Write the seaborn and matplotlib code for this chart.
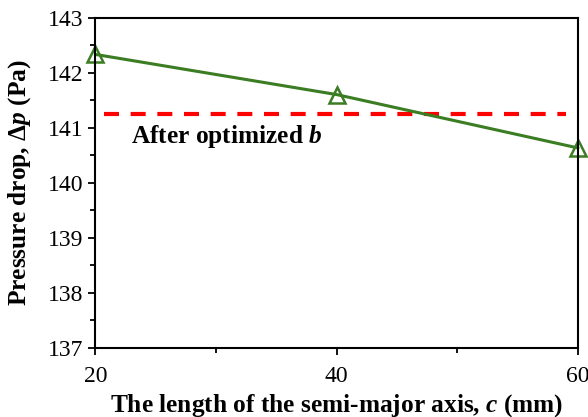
import matplotlib
matplotlib.use("Agg")
import matplotlib.pyplot as plt
import seaborn as sns
import pandas as pd
from matplotlib.ticker import MultipleLocator

# data
c_mm = [20, 40, 60]
pressure_drop = [142.33, 141.60, 140.63]
optimized_b = 141.25
optimized_x = [20.75, 59.0]

sns.set_theme(style="ticks")
plt.rcParams['font.family'] = ['Liberation Serif', 'DejaVu Serif']
plt.rcParams['mathtext.fontset'] = 'custom'
plt.rcParams['mathtext.it'] = 'Liberation Serif:italic:bold'
plt.rcParams['mathtext.rm'] = 'Liberation Serif:bold'
plt.rcParams['mathtext.bf'] = 'Liberation Serif:bold'
plt.rcParams['text.color'] = 'black'
plt.rcParams['axes.labelcolor'] = 'black'

df = pd.DataFrame({"c": c_mm, "dp": pressure_drop})
ref = pd.DataFrame({"c": optimized_x, "dp": [optimized_b] * len(optimized_x)})

fig = plt.figure(figsize=(5.88, 4.17), dpi=100)
ax = fig.add_axes([0.162, 0.166, 0.821, 0.792])

sns.lineplot(data=ref, x="c", y="dp", ax=ax, color="#ff0000", linewidth=3,
             dashes=False, linestyle=(0, (3.6, 2.8)))
sns.lineplot(data=df, x="c", y="dp", ax=ax, color="#3a7d22", linewidth=2.2,
             marker="^", markersize=12, markerfacecolor="none",
             markeredgecolor="#3a7d22", markeredgewidth=1.8, clip_on=False)

ax.text(23.0, 140.72, "After optimized $b$", fontsize=18.3, fontweight="bold",
        va="baseline", ha="left", color="black")

ax.set_xlim(20, 60)
ax.set_ylim(137, 143)
ax.xaxis.set_major_locator(MultipleLocator(20))
ax.xaxis.set_minor_locator(MultipleLocator(10))
ax.yaxis.set_major_locator(MultipleLocator(1))
ax.yaxis.set_minor_locator(MultipleLocator(0.5))
ax.tick_params(which="major", direction="out", length=4.8, width=1.3,
               labelsize=17, color="black", labelcolor="black")
ax.tick_params(which="minor", direction="out", length=3.8, width=1.3,
               color="black")
ax.tick_params(axis="x", which="major", pad=8)
ax.tick_params(axis="y", which="major", pad=3.5)
for s in ax.spines.values():
    s.set_visible(True)
    s.set_linewidth(1.5)
    s.set_color("black")

ax.set_xlabel("The length of the semi-major axis, $c$ (mm)", fontsize=18.3,
              fontweight="bold", color="black")
ax.set_ylabel("Pressure drop, Δ$p$ (Pa)", fontsize=18.3, fontweight="bold",
              color="black")
ax.xaxis.label.set_va("baseline")
ax.xaxis.set_label_coords(0.5, -0.192)
ax.yaxis.set_label_coords(-0.129, 0.5)

fig.savefig("out.png", dpi=100)
